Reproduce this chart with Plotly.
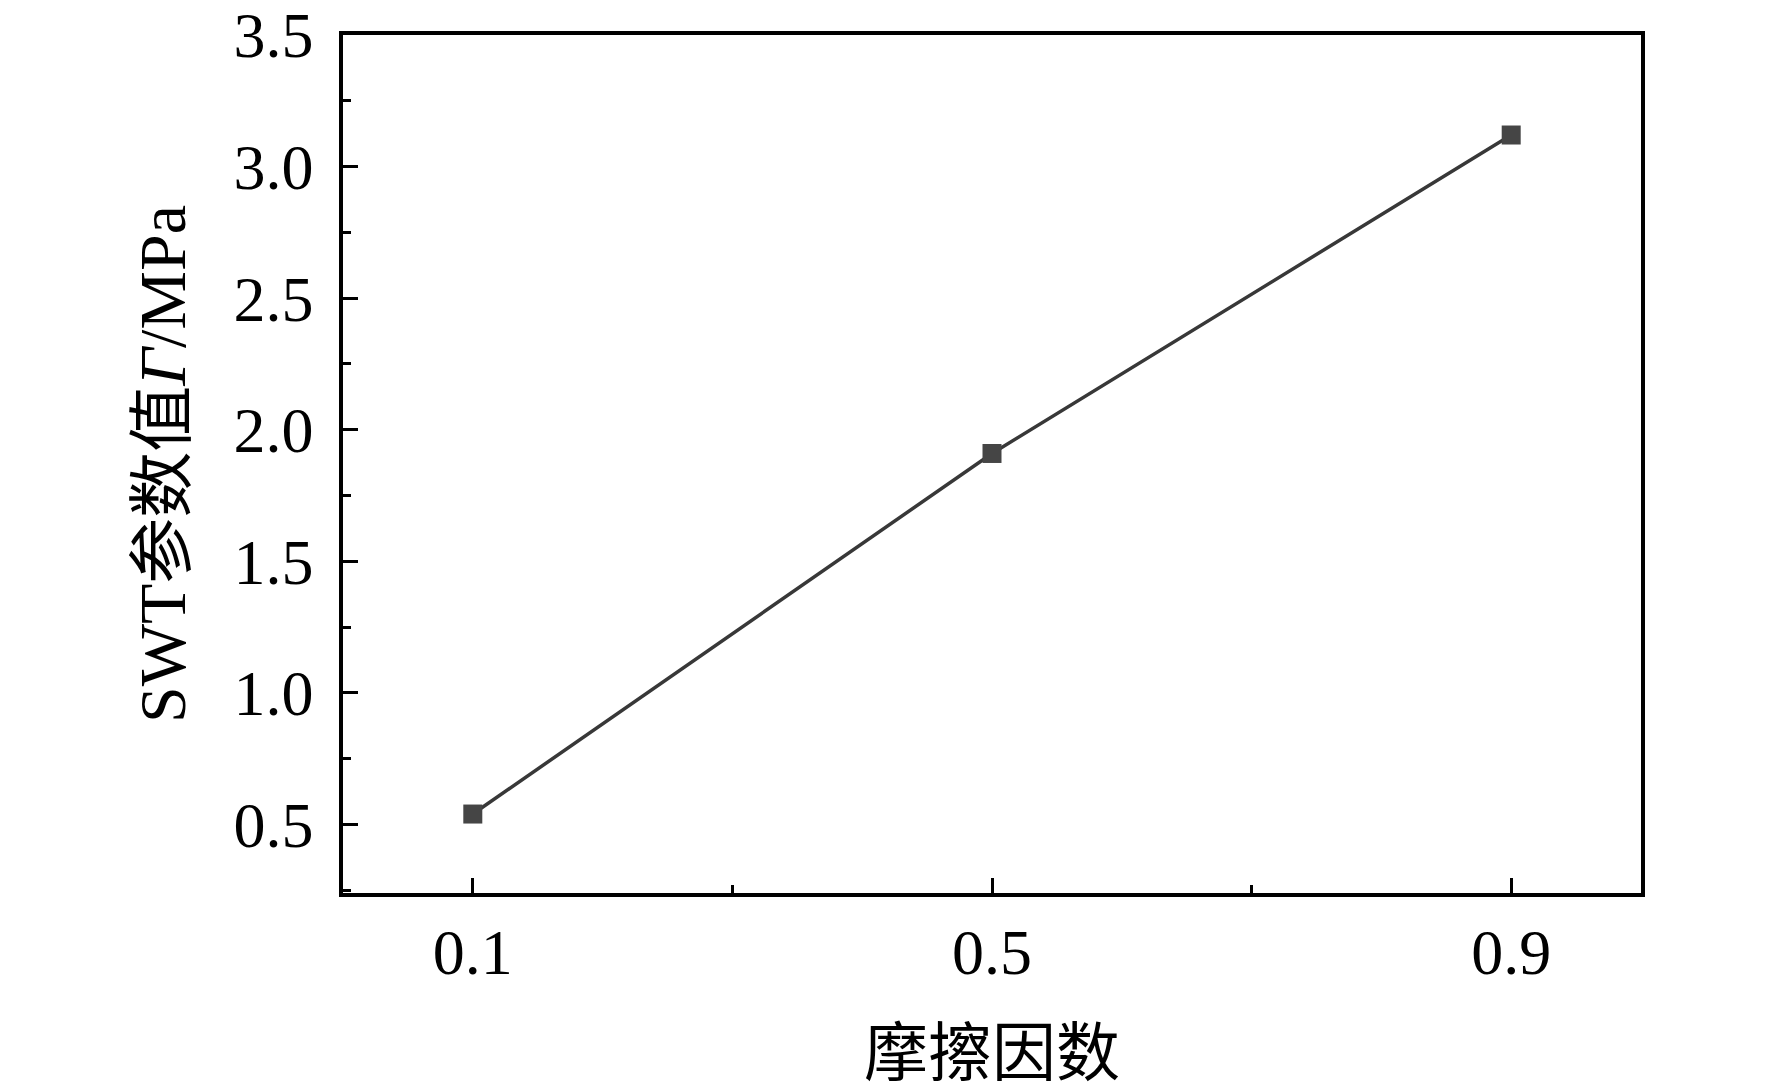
import plotly.graph_objects as go

friction = [0.1, 0.5, 0.9]
swt = [0.54, 1.91, 3.12]
x_ticks = [0.1, 0.5, 0.9]
y_ticks = [0.5, 1.0, 1.5, 2.0, 2.5, 3.0, 3.5]

font_fam = "Liberation Serif, Times New Roman, Noto Sans CJK SC, serif"

fig = go.Figure()
fig.add_trace(go.Scatter(
    x=friction, y=swt, mode="lines+markers",
    line=dict(color="#383838", width=3.5),
    marker=dict(symbol="square", size=19, color="#454545"),
    showlegend=False,
))

axis_common = dict(
    showline=True, linecolor="black", linewidth=3.5, mirror=True,
    ticks="inside", ticklen=15, tickwidth=3, tickcolor="black",
    showgrid=False, zeroline=False, automargin=False,
    ticklabeloverflow="allow",
    tickfont=dict(family=font_fam, size=64, color="black"),
)

fig.update_xaxes(
    range=[0.0, 1.0], tickvals=x_ticks, ticktext=[f"{v:.1f}" for v in x_ticks],
    minor=dict(tickvals=[0.3, 0.7], ticks="inside", ticklen=8, tickwidth=2.5, tickcolor="black"),
    ticklabelstandoff=0,
    title=dict(text="摩擦因数", font=dict(family=font_fam, size=64, color="black"), standoff=45),
    **axis_common,
)
fig.update_yaxes(
    range=[0.24, 3.5], tickvals=y_ticks, ticktext=[f"{v:.1f}" for v in y_ticks],
    minor=dict(tickvals=[0.25, 0.75, 1.25, 1.75, 2.25, 2.75, 3.25], ticks="inside", ticklen=8, tickwidth=2.5, tickcolor="black"),
    ticklabelstandoff=13,
    title=dict(text="SWT参数值<i>Γ</i>/MPa", font=dict(family=font_fam, size=66, color="black"), standoff=27),
    **axis_common,
)

fig.update_layout(
    width=1764, height=1083,
    margin=dict(l=335, r=131, t=27, b=198),
    plot_bgcolor="white", paper_bgcolor="white",
)

fig.write_html("out.html")
